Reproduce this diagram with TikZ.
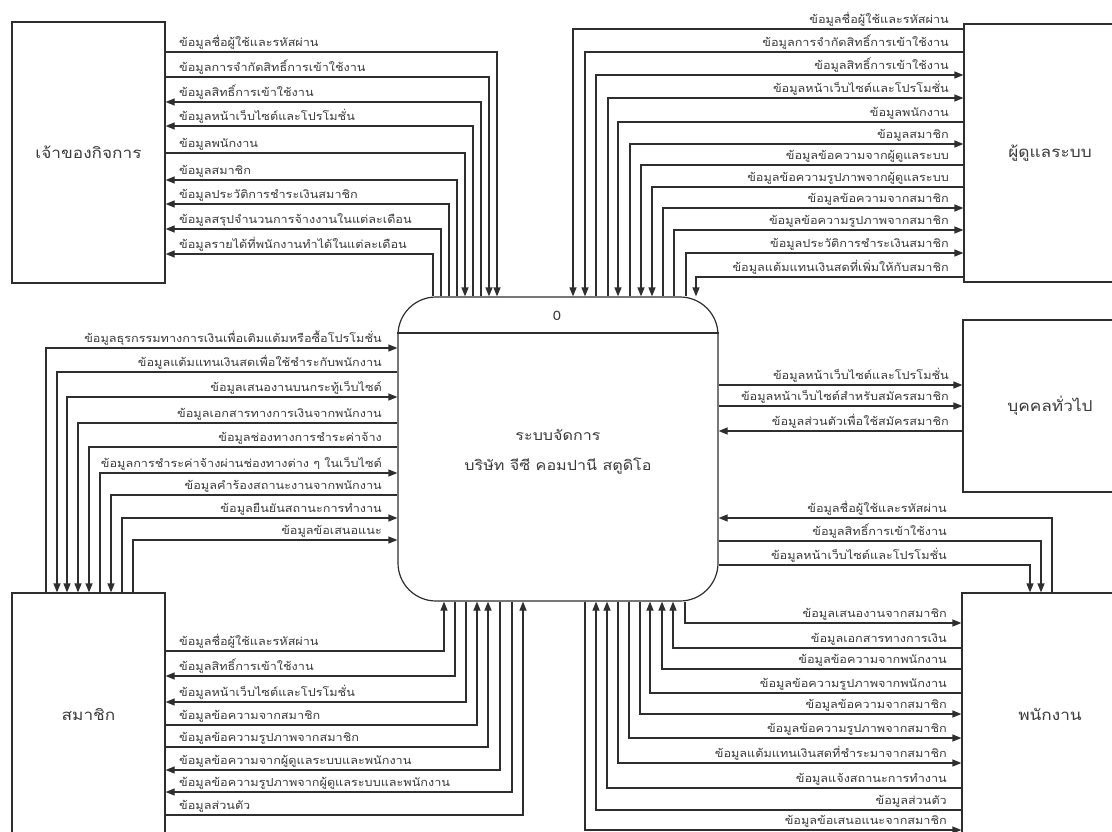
\documentclass[tikz,border=0pt]{standalone}
\usepackage{fontspec}
\newfontfamily\thai[Script=Thai,FakeStretch=1.15]{Loma}
\usetikzlibrary{arrows.meta}
\definecolor{ln}{HTML}{2E2E2E}
\definecolor{tx}{HTML}{3A3A3A}
\tikzset{
 ent/.style={draw=ln, line width=1.2pt, font=\thai\fontsize{15}{18}\selectfont, text=tx, inner sep=0pt},
 fwd/.style={draw=ln, line width=1.2pt, -{Triangle[length=9pt,width=7pt]}},
 rev/.style={draw=ln, line width=1.2pt, {Triangle[length=9pt,width=7pt]}-},
 bth/.style={draw=ln, line width=1.2pt, {Triangle[length=9pt,width=7pt]}-{Triangle[length=9pt,width=7pt]}},
 lbl/.style={font=\thai\fontsize{11}{13}\selectfont, text=tx, inner sep=1pt},
}
\begin{document}
\begin{tikzpicture}[x=1pt,y=-1pt]
\useasboundingbox (0,0) rectangle (1112,832);
% entities
\node[ent, minimum width=153pt, minimum height=261pt] (own) at (88.5,152.5) {เจ้าของกิจการ};
\node[ent, minimum width=172pt, minimum height=258pt] (adm) at (1050,153) {ผู้ดูแลระบบ};
\node[ent, minimum width=174pt, minimum height=172pt] (pub) at (1050,406) {บุคคลทั่วไป};
\node[ent, minimum width=176pt, minimum height=244pt] (emp) at (1050,715) {พนักงาน};
\node[ent, minimum width=153pt, minimum height=244pt] (mem) at (88.5,715) {สมาชิก};
% process
\node[ent, rounded corners=38pt, minimum width=320pt, minimum height=304pt] (ctr) at (558,449) {};
\node[ent, draw=none, align=center, font=\thai\fontsize{14}{30}\selectfont] (ctrt) at (558,452) {ระบบจัดการ\\บริษัท จีซี คอมปานี สตูดิโอ};
\node[ent, draw=none, font=\thai\fontsize{13}{15}\selectfont] (ctrn) at (557,316) {0};
\draw[draw=ln, line width=1.2pt] (ctr.west |- 0,333) -- (ctr.east |- 0,333);
% owner group
\foreach \yy/\xx/\dir/\txt [count=\i] in {
 52/497/fwd/ข้อมูลชื่อผู้ใช้และรหัสผ่าน,
 77/489/fwd/ข้อมูลการจำกัดสิทธิ์การเข้าใช้งาน,
 102/481/rev/ข้อมูลสิทธิ์การเข้าใช้งาน,
 126/473/rev/ข้อมูลหน้าเว็บไซต์และโปรโมชั่น,
 153/465/fwd/ข้อมูลพนักงาน,
 180/457/rev/ข้อมูลสมาชิก,
 204/449/rev/ข้อมูลประวัติการชำระเงินสมาชิก,
 229/441/rev/ข้อมูลสรุปจำนวนการจ้างงานในแต่ละเดือน,
 254/433/rev/ข้อมูลรายได้ที่พนักงานทำได้ในแต่ละเดือน}{
 \draw[\dir] (own.east |- 0,\yy) -| (\xx,0 |- ctr.north);
 \node[lbl, anchor=south west] (a\i) at (178,\yy-1.5) {\txt};
}
% admin group
\foreach \yy/\xx/\dir/\txt [count=\i] in {
 29/573/fwd/ข้อมูลชื่อผู้ใช้และรหัสผ่าน,
 52/585/fwd/ข้อมูลการจำกัดสิทธิ์การเข้าใช้งาน,
 75/596/rev/ข้อมูลสิทธิ์การเข้าใช้งาน,
 98/608/rev/ข้อมูลหน้าเว็บไซต์และโปรโมชั่น,
 122/618/fwd/ข้อมูลพนักงาน,
 144/630/rev/ข้อมูลสมาชิก,
 165/641/fwd/ข้อมูลข้อความจากผู้ดูแลระบบ,
 187/652/fwd/ข้อมูลข้อความรูปภาพจากผู้ดูแลระบบ,
 208/663/rev/ข้อมูลข้อความจากสมาชิก,
 230/674/rev/ข้อมูลข้อความรูปภาพจากสมาชิก,
 253/686/rev/ข้อมูลประวัติการชำระเงินสมาชิก,
 277/696/fwd/ข้อมูลแต้มแทนเงินสดที่เพิ่มให้กับสมาชิก}{
 \draw[\dir] (adm.west |- 0,\yy) -| (\xx,0 |- ctr.north);
 \node[lbl, anchor=south east] (b\i) at (950,\yy-1.5) {\txt};
}
% public group
\foreach \yy/\dir/\txt [count=\i] in {
 385/fwd/ข้อมูลหน้าเว็บไซต์และโปรโมชั่น,
 406/fwd/ข้อมูลหน้าเว็บไซต์สำหรับสมัครสมาชิก,
 431/rev/ข้อมูลส่วนตัวเพื่อใช้สมัครสมาชิก}{
 \draw[\dir] (ctr.east |- 0,\yy) -- (pub.west |- 0,\yy);
 \node[lbl, anchor=south east] (c\i) at (950,\yy-1.5) {\txt};
}
% employee upper group
\foreach \yy/\xx/\dir/\txt [count=\i] in {
 518/1052/rev/ข้อมูลชื่อผู้ใช้และรหัสผ่าน,
 541/1041/fwd/ข้อมูลสิทธิ์การเข้าใช้งาน,
 565/1030/fwd/ข้อมูลหน้าเว็บไซต์และโปรโมชั่น}{
 \draw[\dir] (ctr.east |- 0,\yy) -| (\xx,0 |- emp.north);
 \node[lbl, anchor=south east] (d\i) at (948,\yy-1.5) {\txt};
}
% employee lower group
\foreach \yy/\xx/\dir/\txt [count=\i] in {
 623/685/fwd/ข้อมูลเสนองานจากสมาชิก,
 648/673/rev/ข้อมูลเอกสารทางการเงิน,
 669/662/rev/ข้อมูลข้อความจากพนักงาน,
 693/650/rev/ข้อมูลข้อความรูปภาพจากพนักงาน,
 714/640/fwd/ข้อมูลข้อความจากสมาชิก,
 738/629/fwd/ข้อมูลข้อความรูปภาพจากสมาชิก,
 763/618/fwd/ข้อมูลแต้มแทนเงินสดที่ชำระมาจากสมาชิก,
 788/607/rev/ข้อมูลแจ้งสถานะการทำงาน,
 810/596/rev/ข้อมูลส่วนตัว,
 830/585/fwd/ข้อมูลข้อเสนอแนะจากสมาชิก}{
 \draw[\dir] (\xx,0 |- ctr.south) |- (emp.west |- 0,\yy);
 \node[lbl, anchor=south east] (e\i) at (948,\yy-1.5) {\txt};
}
% member middle group
\foreach \yy/\xx/\dir/\txt [count=\i] in {
 348/46/fwd/ข้อมูลธุรกรรมทางการเงินเพื่อเติมแต้มหรือซื้อโปรโมชั่น,
 372/57/rev/ข้อมูลแต้มแทนเงินสดเพื่อใช้ชำระกับพนักงาน,
 397/67/bth/ข้อมูลเสนองานบนกระทู้เว็บไซต์,
 423/78/rev/ข้อมูลเอกสารทางการเงินจากพนักงาน,
 447/89/rev/ข้อมูลช่องทางการชำระค่าจ้าง,
 473/100/fwd/ข้อมูลการชำระค่าจ้างผ่านช่องทางต่าง ๆ ในเว็บไซต์,
 495/111/rev/ข้อมูลคำร้องสถานะงานจากพนักงาน,
 518/122/fwd/ข้อมูลยืนยันสถานะการทำงาน,
 540/133/fwd/ข้อมูลข้อเสนอแนะ}{
 \draw[\dir] (\xx,0 |- mem.north) |- (ctr.west |- 0,\yy);
 \node[lbl, anchor=south east] (f\i) at (383,\yy-1.5) {\txt};
}
% member lower group
\foreach \yy/\xx/\dir/\txt [count=\i] in {
 651/444/rev/ข้อมูลชื่อผู้ใช้และรหัสผ่าน,
 676/455/fwd/ข้อมูลสิทธิ์การเข้าใช้งาน,
 702/466/fwd/ข้อมูลหน้าเว็บไซต์และโปรโมชั่น,
 725/477/rev/ข้อมูลข้อความจากสมาชิก,
 747/488/rev/ข้อมูลข้อความรูปภาพจากสมาชิก,
 770/500/fwd/ข้อมูลข้อความจากผู้ดูแลระบบและพนักงาน,
 792/512/fwd/ข้อมูลข้อความรูปภาพจากผู้ดูแลระบบและพนักงาน,
 815/523/rev/ข้อมูลส่วนตัว}{
 \draw[\dir] (\xx,0 |- ctr.south) |- (mem.east |- 0,\yy);
 \node[lbl, anchor=south west] (g\i) at (178,\yy-1.5) {\txt};
}
\end{tikzpicture}
\end{document}
